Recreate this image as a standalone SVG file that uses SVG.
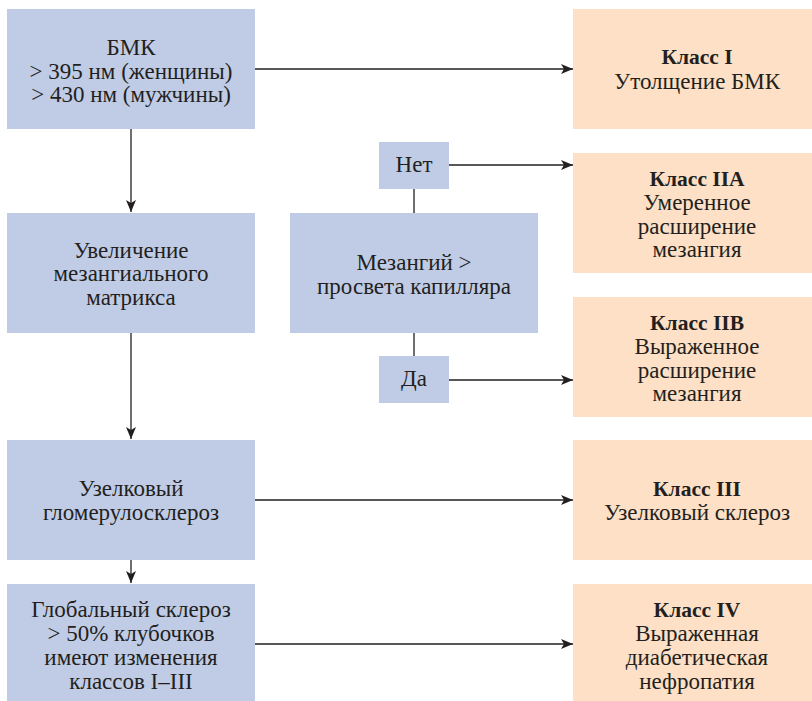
<svg xmlns="http://www.w3.org/2000/svg" width="812" height="701" viewBox="0 0 812 701">
<style>
.b{fill:#c0cce6}
.o{fill:#fde0c5}
text{font-family:'Liberation Serif','DejaVu Serif','Times New Roman',serif;font-size:23px;fill:#231f20;text-anchor:middle}
.h{font-weight:bold;font-size:21.5px}
.c line{stroke:#231f20;stroke-width:1.3;fill:none}
</style>
<defs>
<marker id="a" viewBox="0 0 12 10" refX="12" refY="5" markerWidth="12" markerHeight="10" markerUnits="userSpaceOnUse" orient="auto">
<path d="M0,0 L12,5 L0,10 L3,5 Z" fill="#231f20"/>
</marker>
</defs>
<rect width="812" height="701" fill="#fff"/>
<g class="c">
<line x1="255" y1="69" x2="573" y2="69" marker-end="url(#a)"/>
<line x1="131" y1="129" x2="131" y2="212" marker-end="url(#a)"/>
<line x1="131" y1="333" x2="131" y2="439" marker-end="url(#a)"/>
<line x1="131" y1="560" x2="131" y2="583" marker-end="url(#a)"/>
<line x1="449" y1="165" x2="573" y2="165" marker-end="url(#a)"/>
<line x1="449" y1="380" x2="573" y2="380" marker-end="url(#a)"/>
<line x1="255" y1="500" x2="573" y2="500" marker-end="url(#a)"/>
<line x1="255" y1="644" x2="573" y2="644" marker-end="url(#a)"/>
<line x1="414" y1="189" x2="414" y2="213"/>
<line x1="414" y1="333" x2="414" y2="356"/>
</g>
<g id="bmk"><rect class="b" x="7" y="9" width="248" height="120"/>
<text x="131" y="55">БМК</text><text x="131" y="79">&gt; 395 нм (женщины)</text><text x="131" y="102">&gt; 430 нм (мужчины)</text></g>
<g id="matrix"><rect class="b" x="7" y="213" width="248" height="120"/>
<text x="131" y="258">Увеличение</text><text x="131" y="281">мезангиального</text><text x="131" y="305">матрикса</text></g>
<g id="nodular"><rect class="b" x="7" y="440" width="248" height="120"/>
<text x="131" y="496">Узелковый</text><text x="131" y="520">гломерулосклероз</text></g>
<g id="global"><rect class="b" x="7" y="584" width="248" height="117"/>
<text x="131" y="617">Глобальный склероз</text><text x="131" y="641">&gt; 50% клубочков</text><text x="131" y="665">имеют изменения</text><text x="131" y="689">классов I–III</text></g>
<g id="mesangium"><rect class="b" x="290" y="213" width="248" height="120"/>
<text x="414" y="270">Мезангий &gt;</text><text x="414" y="294">просвета капилляра</text></g>
<g id="net"><rect class="b" x="379" y="142" width="70" height="47"/><text x="414" y="172">Нет</text></g>
<g id="da"><rect class="b" x="379" y="356" width="70" height="47"/><text x="414" y="386">Да</text></g>
<g id="c1"><rect class="o" x="573" y="9" width="239" height="120"/>
<text class="h" x="697" y="64">Класс I</text><text x="697" y="89">Утолщение БМК</text></g>
<g id="c2a"><rect class="o" x="573" y="153" width="239" height="120"/>
<text class="h" x="697" y="186">Класс IIA</text><text x="697" y="210">Умеренное</text><text x="697" y="234">расширение</text><text x="697" y="257">мезангия</text></g>
<g id="c2b"><rect class="o" x="573" y="297" width="239" height="120"/>
<text class="h" x="697" y="330">Класс IIB</text><text x="697" y="354">Выраженное</text><text x="697" y="378">расширение</text><text x="697" y="401">мезангия</text></g>
<g id="c3"><rect class="o" x="573" y="440" width="239" height="120"/>
<text class="h" x="697" y="496">Класс III</text><text x="697" y="520">Узелковый склероз</text></g>
<g id="c4"><rect class="o" x="573" y="584" width="239" height="117"/>
<text class="h" x="697" y="617">Класс IV</text><text x="697" y="641">Выраженная</text><text x="697" y="665">диабетическая</text><text x="697" y="689">нефропатия</text></g>
</svg>
